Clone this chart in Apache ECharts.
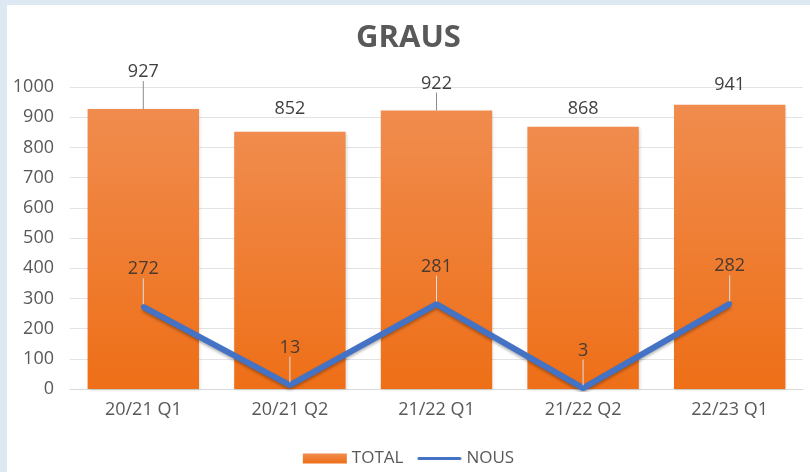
<!DOCTYPE html>
<html>
<head>
<meta charset="utf-8">
<script src="https://cdn.jsdelivr.net/npm/echarts@6/dist/echarts.min.js"></script>
<style>
    html, body { margin: 0; padding: 0; background: #dde8f3; }
    #chart { position: absolute; left: 7px; top: 5px; width: 803px; height: 467px; background: #ffffff; }
</style>
</head>
<body>
<div id="chart"></div>
<script>
var categories = ['20/21 Q1', '20/21 Q2', '21/22 Q1', '21/22 Q2', '22/23 Q1'];
var totalValues = [927, 852, 922, 868, 941];
var nousValues = [272, 13, 281, 3, 282];
var yTicks = { min: 0, max: 1000, interval: 100 };

var chart = echarts.init(document.getElementById('chart'));

// desplazamiento de las etiquetas de las barras (como en el original)
var barLabelLift = [-22, -8, -12, -3, -5];

var option = {
    animation: false,
    textStyle: { fontFamily: 'Open Sans' },
    title: {
        text: 'GRAUS',
        left: 'center',
        top: 13,
        textStyle: { fontSize: 31, fontWeight: 'bold', color: '#595959', fontFamily: 'Open Sans' }
    },
    grid: { left: 63, right: 7, top: 82, bottom: 83 },
    legend: {
        bottom: 0,
        left: 'center',
        itemWidth: 44,
        itemHeight: 10,
        itemGap: 14,
        textStyle: { fontSize: 17, color: '#595959' },
        data: [
            { name: 'TOTAL', icon: 'rect' },
            { name: 'NOUS', icon: 'path://M3,0 L85,0 A3,3 0 0 1 85,6 L3,6 A3,3 0 0 1 3,0 Z' }
        ]
    },
    xAxis: {
        type: 'category',
        data: categories,
        axisTick: { show: false },
        axisLine: { lineStyle: { color: '#d9d9d9', width: 1 } },
        axisLabel: { fontSize: 18, color: '#595959', margin: 12 }
    },
    yAxis: {
        type: 'value',
        min: yTicks.min,
        max: yTicks.max,
        interval: yTicks.interval,
        axisLine: { show: false },
        axisTick: { show: false },
        axisLabel: {
            fontSize: 18, color: '#595959', margin: 16,
            formatter: function (v) { return String(v); }
        },
        splitLine: { lineStyle: { color: '#e3e3e3', width: 1 } }
    },
    series: [{
        name: 'TOTAL',
        type: 'bar',
        data: totalValues.map(function (v, i) {
            // solo las dos primeras columnas altas llevan linea guia
            return { value: v, labelLine: { show: i === 0 || i === 2 } };
        }),
        barCategoryGap: '24%',
        itemStyle: {
            color: new echarts.graphic.LinearGradient(0, 0, 0, 1, [
                { offset: 0, color: '#f08c4e' },
                { offset: 1, color: '#ee6f17' }
            ]),
            shadowColor: 'rgba(0,0,0,0.15)',
            shadowBlur: 3,
            shadowOffsetX: 1,
            shadowOffsetY: 1
        },
        label: {
            show: true,
            position: 'top',
            distance: 6,
            fontSize: 18,
            color: '#404040'
        },
        labelLayout: function (params) {
            return { dy: barLabelLift[params.dataIndex] };
        },
        labelLine: { show: true, lineStyle: { color: '#8c8c8c', width: 1 } }
    }, {
        name: 'NOUS',
        type: 'line',
        data: nousValues,
        symbol: 'circle',
        symbolSize: 5,
        lineStyle: {
            color: '#4472c4',
            width: 6,
            shadowColor: 'rgba(0,0,0,0.3)',
            shadowBlur: 3,
            shadowOffsetY: 2
        },
        itemStyle: { color: '#4472c4' },
        label: {
            show: true,
            position: 'top',
            distance: 6,
            fontSize: 18,
            color: '#4a3a30'
        },
        labelLayout: { dy: -20 },
        labelLine: { show: true, lineStyle: { color: '#e0e0e0', width: 1 } }
    }]
};

chart.setOption(option);
</script>
</body>
</html>
